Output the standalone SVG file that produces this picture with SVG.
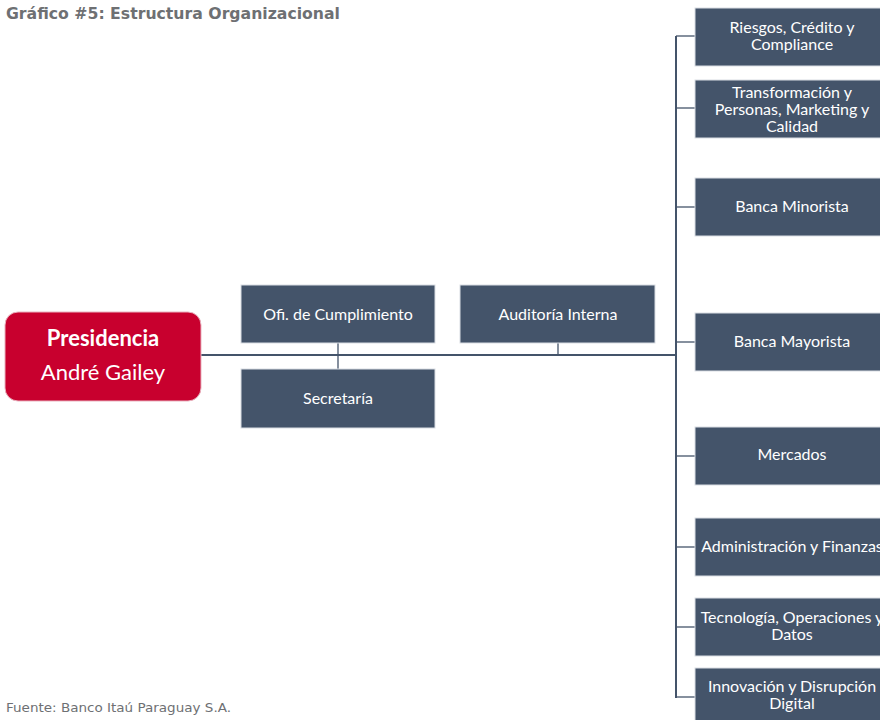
<svg xmlns="http://www.w3.org/2000/svg" width="880" height="720" viewBox="0 0 880 720">
<style>
.box{fill:#44546A;stroke:#D9DDE3;stroke-width:1}
.t{font-family:Lato,"Liberation Sans",sans-serif;font-size:16px;fill:#FFFFFF;text-anchor:middle}
.ln{stroke:#44546A;stroke-width:2;fill:none}
.ln1{stroke:#44546A;stroke-width:1.3;fill:none}
</style>
<rect width="880" height="720" fill="#FFFFFF"/>
<text x="6" y="19" font-family="'DejaVu Sans',sans-serif" font-size="15" font-weight="bold" fill="#6E7073" textLength="334" lengthAdjust="spacingAndGlyphs">Gráfico #5: Estructura Organizacional</text>
<text x="6" y="712" font-family="'DejaVu Sans',sans-serif" font-size="12.5" fill="#6E7073" textLength="225" lengthAdjust="spacingAndGlyphs">Fuente: Banco Itaú Paraguay S.A.</text>
<g id="connectors">
<line class="ln" x1="201" y1="355" x2="677" y2="355"/>
<line class="ln1" x1="338" y1="343" x2="338" y2="369"/>
<line class="ln1" x1="558" y1="343" x2="558" y2="355"/>
<line class="ln" x1="676" y1="36" x2="676" y2="698"/>
<line class="ln1" x1="676" y1="36" x2="696" y2="36"/>
<line class="ln1" x1="676" y1="108" x2="696" y2="108"/>
<line class="ln1" x1="676" y1="207" x2="696" y2="207"/>
<line class="ln1" x1="676" y1="342" x2="696" y2="342"/>
<line class="ln1" x1="676" y1="456" x2="696" y2="456"/>
<line class="ln1" x1="676" y1="547" x2="696" y2="547"/>
<line class="ln1" x1="676" y1="627" x2="696" y2="627"/>
<line class="ln1" x1="676" y1="697" x2="696" y2="697"/>
</g>
<g id="presidencia">
<rect x="5" y="312" width="196" height="89" rx="13" fill="#C8002E" stroke="#E9B3BF" stroke-width="1"/>
<text x="103" y="346" font-family="Lato,'Liberation Sans',sans-serif" font-size="22" font-weight="bold" fill="#FFFFFF" text-anchor="middle">Presidencia</text>
<text x="103" y="380" font-family="Lato,'Liberation Sans',sans-serif" font-size="22" fill="#FFFFFF" text-anchor="middle">André Gailey</text>
</g>
<g id="ofi">
<rect class="box" x="241" y="285" width="194" height="58"/>
<text class="t" x="338" y="320">Ofi. de Cumplimiento</text>
</g>
<g id="secretaria">
<rect class="box" x="241" y="369" width="194" height="59"/>
<text class="t" x="338" y="404">Secretaría</text>
</g>
<g id="auditoria">
<rect class="box" x="460" y="285" width="195" height="58"/>
<text class="t" x="558" y="320">Auditoría Interna</text>
</g>
<g id="riesgos">
<rect class="box" x="695" y="8" width="194" height="58"/>
<text class="t" x="792" y="33">Riesgos, Crédito y</text>
<text class="t" x="792" y="50">Compliance</text>
</g>
<g id="transformacion">
<rect class="box" x="695" y="80" width="194" height="58"/>
<text class="t" x="792" y="98">Transformación y</text>
<text class="t" x="792" y="115">Personas, Marketing y</text>
<text class="t" x="792" y="132">Calidad</text>
</g>
<g id="minorista">
<rect class="box" x="695" y="178" width="194" height="58"/>
<text class="t" x="792" y="212">Banca Minorista</text>
</g>
<g id="mayorista">
<rect class="box" x="695" y="313" width="194" height="58"/>
<text class="t" x="792" y="347">Banca Mayorista</text>
</g>
<g id="mercados">
<rect class="box" x="695" y="427" width="194" height="58"/>
<text class="t" x="792" y="460">Mercados</text>
</g>
<g id="administracion">
<rect class="box" x="695" y="518" width="194" height="58"/>
<text class="t" x="792" y="552">Administración y Finanzas</text>
</g>
<g id="tecnologia">
<rect class="box" x="695" y="598" width="194" height="58"/>
<text class="t" x="792" y="623">Tecnología, Operaciones y</text>
<text class="t" x="792" y="640">Datos</text>
</g>
<g id="innovacion">
<rect class="box" x="695" y="668" width="194" height="58"/>
<text class="t" x="792" y="692">Innovación y Disrupción</text>
<text class="t" x="792" y="709">Digital</text>
</g>
</svg>
